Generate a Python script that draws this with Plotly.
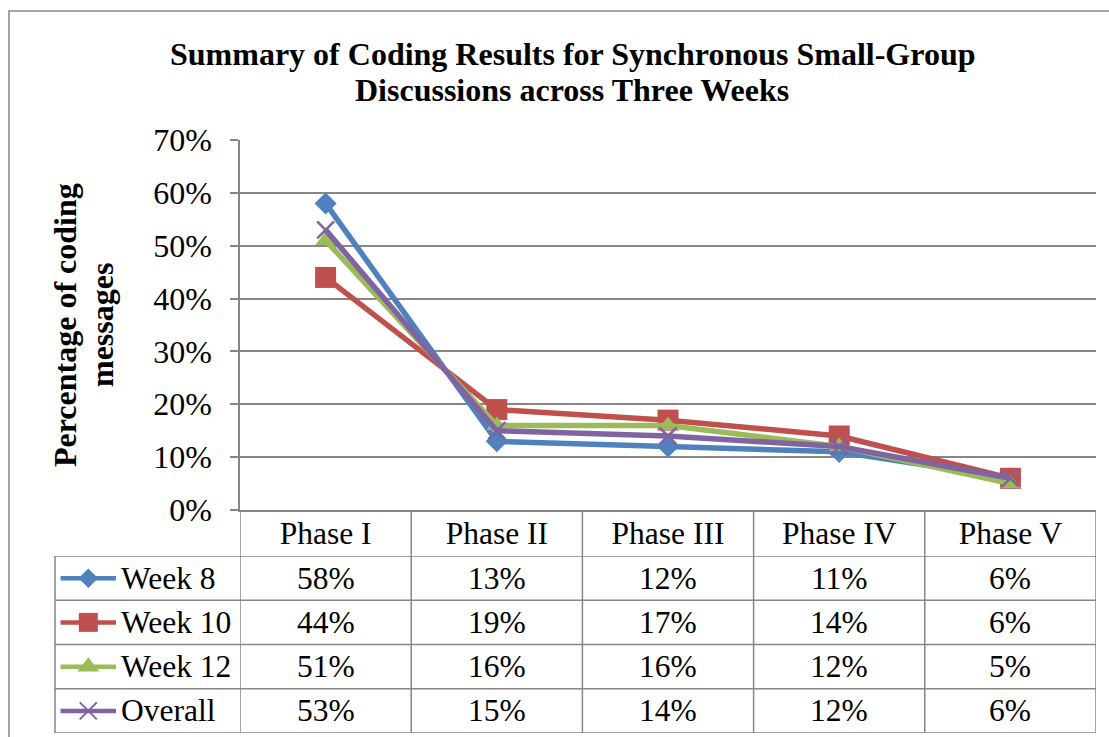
import plotly.graph_objects as go

# ---- data ----
phases = ["Phase I", "Phase II", "Phase III", "Phase IV", "Phase V"]
series_names = ["Week 8", "Week 10", "Week 12", "Overall"]
week8 = [0.58, 0.13, 0.12, 0.11, 0.06]
week10 = [0.44, 0.19, 0.17, 0.14, 0.06]
week12 = [0.51, 0.16, 0.16, 0.12, 0.05]
overall = [0.53, 0.15, 0.14, 0.12, 0.06]
y_ticks = [0, 0.1, 0.2, 0.3, 0.4, 0.5, 0.6, 0.7]
title_lines = ["Summary of Coding Results for Synchronous Small-Group",
               "Discussions across Three Weeks"]
ytitle_lines = ["Percentage of coding", "messages"]

# ---- styles ----
W, H = 1109, 737
FONT = "Liberation Serif, Times New Roman, serif"
FS = 31.5
GRID = "#868686"
colors = ["#4F81BD", "#C0504D", "#9BBB59", "#8064A2"]
symbols = ["diamond", "square", "triangle-up", "x-thin"]
msizes = [17, 21, 18, 17]
leg_msizes = [15, 19, 19, 17]
values = [week8, week10, week12, overall]

def px_x(p):
    return p / W

def px_y(p):
    return 1 - p / H

plot_left, plot_right, plot_top, axis_y = 240, 1096, 140, 510
table_left, table_top, table_bottom = 55, 556, 733

fig = go.Figure()

for name, vals, c, s, ms in zip(series_names, values, colors, symbols, msizes):
    fig.add_trace(go.Scatter(
        x=phases, y=vals, name=name, mode="lines+markers",
        line=dict(color=c, width=5.5),
        marker=dict(symbol=s, size=ms, color=c,
                    line=dict(color=c, width=2.5 if s == "x-thin" else 0)),
        xaxis="x", yaxis="y", showlegend=False,
    ))

# legend glyphs inside the data table (auxiliary axes)
for i, (name, c, s, ms) in enumerate(zip(series_names, colors, symbols, leg_msizes)):
    fig.add_trace(go.Scatter(
        x=[0.03, 0.18, 0.33], y=[i, i, i], mode="lines",
        line=dict(color=c, width=4.5), xaxis="x2", yaxis="y2", showlegend=False,
        hoverinfo="skip",
    ))
    fig.add_trace(go.Scatter(
        x=[0.18], y=[i], mode="markers",
        marker=dict(symbol=s, size=ms, color=c,
                    line=dict(color=c, width=2 if s == "x-thin" else 0)),
        xaxis="x2", yaxis="y2", showlegend=False, hoverinfo="skip",
    ))
    fig.add_annotation(x=0.345, y=i, xref="x2", yref="y2", text=name,
                       showarrow=False, xanchor="left", yanchor="middle",
                       font=dict(family=FONT, size=FS, color="black"))

# table values
for i, vals in enumerate(values):
    for ph, v in zip(phases, vals):
        fig.add_annotation(x=ph, y=i, xref="x", yref="y2",
                           text=f"{round(v * 100)}%", showarrow=False,
                           xanchor="center", yanchor="middle",
                           font=dict(family=FONT, size=FS, color="black"))

shapes = []
# horizontal table lines
for k in range(5):
    shapes.append(dict(type="line", xref="paper", yref="y2",
                       x0=px_x(table_left), x1=px_x(plot_right),
                       y0=k - 0.5, y1=k - 0.5,
                       line=dict(color=GRID, width=1.5)))
# vertical table lines
for k in range(6):
    shapes.append(dict(type="line", xref="x", yref="paper",
                       x0=k - 0.5, x1=k - 0.5,
                       y0=px_y(table_bottom), y1=px_y(axis_y),
                       line=dict(color=GRID, width=1.5)))
shapes.append(dict(type="line", xref="paper", yref="paper",
                   x0=px_x(table_left), x1=px_x(table_left),
                   y0=px_y(table_bottom), y1=px_y(table_top),
                   line=dict(color=GRID, width=1.5)))
# outer chart frame
shapes.append(dict(type="rect", xref="paper", yref="paper",
                   x0=px_x(9), x1=1.2, y0=-0.2, y1=px_y(11),
                   line=dict(color=GRID, width=1.5), layer="below"))

fig.update_layout(
    template="none",
    width=W, height=H,
    margin=dict(l=0, r=0, t=0, b=0, pad=0, autoexpand=False),
    paper_bgcolor="white", plot_bgcolor="white",
    font=dict(family=FONT, size=FS, color="black"),
    shapes=shapes,
    xaxis=dict(domain=[px_x(plot_left), px_x(plot_right)], range=[-0.5, 4.5],
               showline=True, linecolor=GRID, linewidth=1.5, automargin=False,
               showgrid=False, zeroline=False, ticks="",
               tickfont=dict(family=FONT, size=FS, color="black"),
               ticklabelstandoff=-6, fixedrange=True),
    yaxis=dict(domain=[px_y(axis_y), px_y(plot_top)], range=[0, 0.7],
               tickvals=y_ticks, tickformat=".0%", automargin=False,
               showline=True, linecolor=GRID, linewidth=1.5,
               showgrid=True, gridcolor=GRID, gridwidth=1.5,
               zeroline=False, ticks="outside", ticklen=8, tickcolor=GRID,
               tickwidth=1.5, ticklabelstandoff=12,
               tickfont=dict(family=FONT, size=32, color="black")),
    xaxis2=dict(domain=[px_x(table_left), px_x(plot_left)], range=[0, 1],
                visible=False, anchor="y2", automargin=False),
    yaxis2=dict(domain=[px_y(table_bottom), px_y(table_top)], range=[3.5, -0.5],
                visible=False, anchor="x2", automargin=False),
)

# title (two lines, tight spacing as in the original)
for txt, yc in zip(title_lines, [54, 90]):
    fig.add_annotation(text=f"<b>{txt}</b>", x=572 / W, y=px_y(yc),
                       xref="paper", yref="paper", showarrow=False,
                       xanchor="center", yanchor="middle",
                       font=dict(family=FONT, size=32, color="black"))

# y-axis title (rotated, two lines)
for txt, xc in zip(ytitle_lines, [65, 102]):
    fig.add_annotation(text=f"<b>{txt}</b>", x=xc / W, y=px_y(325),
                       xref="paper", yref="paper", textangle=-90, showarrow=False,
                       xanchor="center", yanchor="middle",
                       font=dict(family=FONT, size=32, color="black"))

fig.write_html("out.html", config={"displayModeBar": False},
               post_script="document.body.style.margin='0px';")
